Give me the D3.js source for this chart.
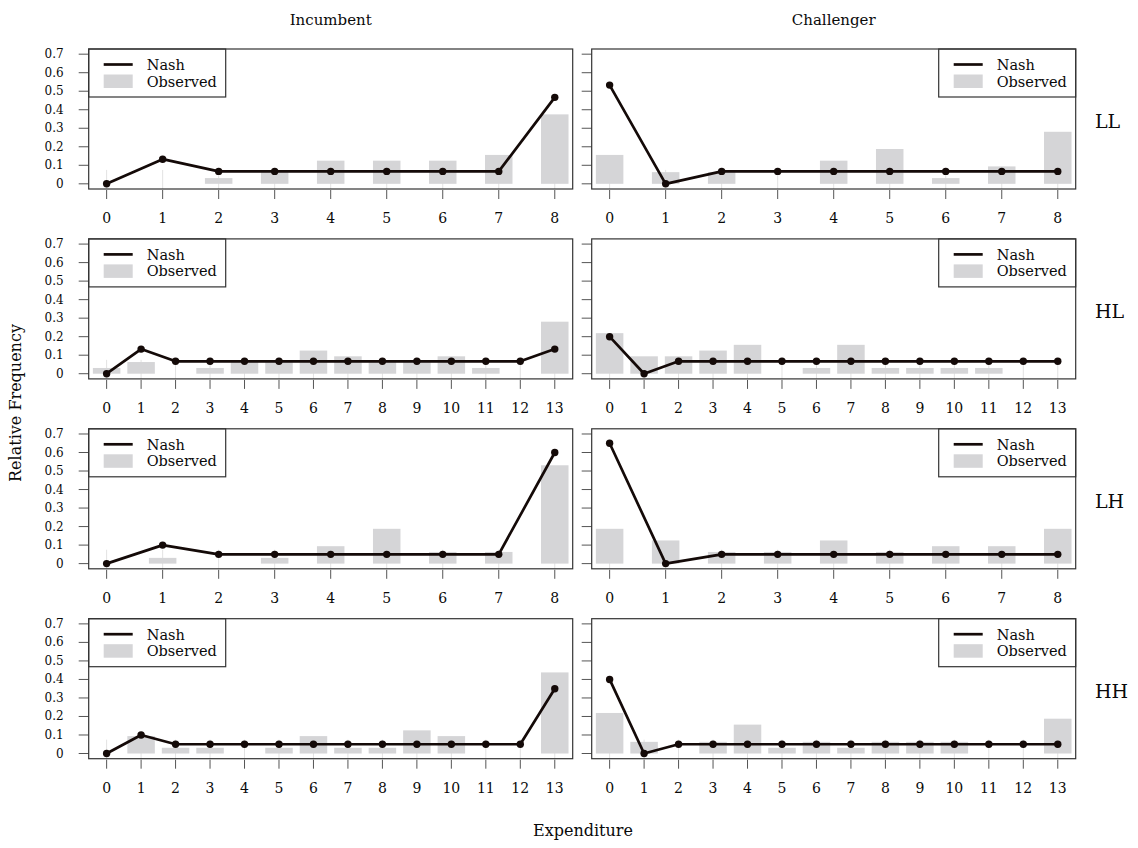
<!DOCTYPE html>
<html>
<head>
<meta charset="utf-8">
<script src="https://cdn.jsdelivr.net/npm/d3@7"></script>
<style>
  body { margin: 0; background: #fff; }
  svg text { font-family: "DejaVu Serif", serif; fill: #0a0a0a; }
</style>
</head>
<body>
<svg id="chart" width="1138" height="848"></svg>
<script>
// expenditure levels
const exp8 = [0, 1, 2, 3, 4, 5, 6, 7, 8];
const exp13 = [0, 1, 2, 3, 4, 5, 6, 7, 8, 9, 10, 11, 12, 13];

const roles = ["Incumbent", "Challenger"];
const treatments = ["LL", "HL", "LH", "HH"];
const yTickValues = [0, 0.1, 0.2, 0.3, 0.4, 0.5, 0.6, 0.7];

// Nash equilibrium frequencies
const nashLLInc = [0, 0.133, 0.067, 0.067, 0.067, 0.067, 0.067, 0.067, 0.467];
const nashLLCha = [0.533, 0, 0.067, 0.067, 0.067, 0.067, 0.067, 0.067, 0.067];
const nashHLInc = [0, 0.133, 0.067, 0.067, 0.067, 0.067, 0.067, 0.067, 0.067, 0.067, 0.067, 0.067, 0.067, 0.133];
const nashHLCha = [0.2, 0, 0.067, 0.067, 0.067, 0.067, 0.067, 0.067, 0.067, 0.067, 0.067, 0.067, 0.067, 0.067];
const nashLHInc = [0, 0.1, 0.05, 0.05, 0.05, 0.05, 0.05, 0.05, 0.6];
const nashLHCha = [0.65, 0, 0.05, 0.05, 0.05, 0.05, 0.05, 0.05, 0.05];
const nashHHInc = [0, 0.1, 0.05, 0.05, 0.05, 0.05, 0.05, 0.05, 0.05, 0.05, 0.05, 0.05, 0.05, 0.35];
const nashHHCha = [0.4, 0, 0.05, 0.05, 0.05, 0.05, 0.05, 0.05, 0.05, 0.05, 0.05, 0.05, 0.05, 0.05];

// observed relative frequencies
const obsLLInc = [0, 0, 0.031, 0.063, 0.125, 0.125, 0.125, 0.156, 0.375];
const obsLLCha = [0.156, 0.063, 0.063, 0, 0.125, 0.188, 0.031, 0.094, 0.281];
const obsHLInc = [0.031, 0.063, 0, 0.031, 0.063, 0.063, 0.125, 0.094, 0.063, 0.063, 0.094, 0.031, 0, 0.281];
const obsHLCha = [0.219, 0.094, 0.094, 0.125, 0.156, 0, 0.031, 0.156, 0.031, 0.031, 0.031, 0.031, 0, 0];
const obsLHInc = [0, 0.031, 0, 0.031, 0.094, 0.188, 0.063, 0.063, 0.531];
const obsLHCha = [0.188, 0.125, 0.063, 0.063, 0.125, 0.063, 0.094, 0.094, 0.188];
const obsHHInc = [0, 0.094, 0.031, 0.031, 0, 0.031, 0.094, 0.031, 0.031, 0.125, 0.094, 0, 0, 0.438];
const obsHHCha = [0.219, 0.063, 0, 0.063, 0.156, 0.031, 0.063, 0.031, 0.063, 0.063, 0.063, 0, 0, 0.188];

const panels = [
  { row: 0, col: 0, xs: exp8, nash: nashLLInc, obs: obsLLInc },
  { row: 0, col: 1, xs: exp8, nash: nashLLCha, obs: obsLLCha },
  { row: 1, col: 0, xs: exp13, nash: nashHLInc, obs: obsHLInc },
  { row: 1, col: 1, xs: exp13, nash: nashHLCha, obs: obsHLCha },
  { row: 2, col: 0, xs: exp8, nash: nashLHInc, obs: obsLHInc },
  { row: 2, col: 1, xs: exp8, nash: nashLHCha, obs: obsLHCha },
  { row: 3, col: 0, xs: exp13, nash: nashHHInc, obs: obsHHInc },
  { row: 3, col: 1, xs: exp13, nash: nashHHCha, obs: obsHHCha },
];

const svg = d3.select("#chart");

const colLeft = [88.7, 591.7];
const boxW = 484;
const rowTop = 49, rowStep = 189.9, boxH = 140;
const barW = 27.5;
const boxColor = "#333";
const tickColor = "#555";
const lineColor = "#140a08";

// R-style 4% padding on both axes
const y = d3.scaleLinear().domain([-0.028, 0.728]).range([boxH, 0]);

panels.forEach((p) => {
  const left = colLeft[p.col];
  const top = rowTop + p.row * rowStep;
  const n = p.xs.length - 1;
  const pad = n * 0.04;
  const x = d3.scaleLinear().domain([-pad, n + pad]).range([0, boxW]);

  const g = svg.append("g").attr("transform", `translate(${left},${top})`);

  // faint stems under the bars
  g.selectAll("line.stem")
    .data(p.xs)
    .join("line")
    .attr("class", "stem")
    .attr("x1", (d) => x(d)).attr("x2", (d) => x(d))
    .attr("y1", boxH).attr("y2", y(0.075))
    .attr("stroke", "#e2e2e2")
    .attr("stroke-width", 1);

  // observed bars
  g.selectAll("rect.bar")
    .data(p.xs.map((v, i) => ({ v, f: p.obs[i] })).filter((d) => d.f > 0))
    .join("rect")
    .attr("class", "bar")
    .attr("x", (d) => x(d.v) - barW / 2)
    .attr("width", barW)
    .attr("y", (d) => y(d.f))
    .attr("height", (d) => y(0) - y(d.f))
    .attr("fill", "#d5d5d7");

  // Nash line + points
  const pts = p.xs.map((v, i) => [v, p.nash[i]]);
  g.append("path")
    .datum(pts)
    .attr("d", d3.line().x((d) => x(d[0])).y((d) => y(d[1])))
    .attr("fill", "none")
    .attr("stroke", lineColor)
    .attr("stroke-width", 2.7)
    .attr("stroke-linejoin", "round");
  g.selectAll("circle.pt")
    .data(pts)
    .join("circle")
    .attr("class", "pt")
    .attr("cx", (d) => x(d[0]))
    .attr("cy", (d) => y(d[1]))
    .attr("r", 3.7)
    .attr("fill", lineColor);

  // y axis (ticks only, labels on left column)
  yTickValues.forEach((t) => {
    g.append("line")
      .attr("x1", -10).attr("x2", 0)
      .attr("y1", y(t)).attr("y2", y(t))
      .attr("stroke", tickColor).attr("stroke-width", 1);
    if (p.col === 0) {
      g.append("text")
        .attr("x", -25)
        .attr("y", y(t) + 4)
        .attr("text-anchor", "end")
        .attr("font-size", "12px")
        .text(t === 0 ? "0" : t.toFixed(1));
    }
  });

  // x axis
  p.xs.forEach((t) => {
    g.append("line")
      .attr("x1", x(t)).attr("x2", x(t))
      .attr("y1", boxH + 1).attr("y2", boxH + 10)
      .attr("stroke", tickColor).attr("stroke-width", 1);
    g.append("text")
      .attr("x", x(t))
      .attr("y", boxH + 34)
      .attr("text-anchor", "middle")
      .attr("font-size", "14px")
      .text(t);
  });

  // legend
  const lgW = 137, lgH = 48;
  const lgX = p.col === 0 ? 0 : boxW - lgW;
  const lg = g.append("g").attr("transform", `translate(${lgX},0)`);
  lg.append("rect")
    .attr("x", 0).attr("y", 0)
    .attr("width", lgW).attr("height", lgH)
    .attr("fill", "#fff")
    .attr("stroke", boxColor).attr("stroke-width", 1.2);
  lg.append("line")
    .attr("x1", 15).attr("x2", 44)
    .attr("y1", 15.5).attr("y2", 15.5)
    .attr("stroke", lineColor).attr("stroke-width", 2.7);
  lg.append("rect")
    .attr("x", 15).attr("y", 25.5)
    .attr("width", 29).attr("height", 13.5)
    .attr("fill", "#d5d5d7");
  lg.append("text").attr("x", 58).attr("y", 21).attr("font-size", "14.5px").text("Nash");
  lg.append("text").attr("x", 58).attr("y", 37.5).attr("font-size", "14.5px").text("Observed");

  // panel box
  g.append("rect")
    .attr("width", boxW).attr("height", boxH)
    .attr("fill", "none")
    .attr("stroke", boxColor).attr("stroke-width", 1.2);

  // row label
  if (p.col === 1) {
    svg.append("text")
      .attr("x", 1095)
      .attr("y", top + boxH / 2 + 9)
      .attr("font-size", "19px")
      .text(treatments[p.row]);
  }
});

// column titles
roles.forEach((r, i) => {
  svg.append("text")
    .attr("x", colLeft[i] + boxW / 2)
    .attr("y", 25)
    .attr("text-anchor", "middle")
    .attr("font-size", "15px")
    .text(r);
});

// axis titles
svg.append("text")
  .attr("x", 583)
  .attr("y", 836)
  .attr("text-anchor", "middle")
  .attr("font-size", "16px")
  .text("Expenditure");
svg.append("text")
  .attr("transform", "translate(21,403) rotate(-90)")
  .attr("text-anchor", "middle")
  .attr("font-size", "16px")
  .text("Relative Frequency");
</script>
</body>
</html>
